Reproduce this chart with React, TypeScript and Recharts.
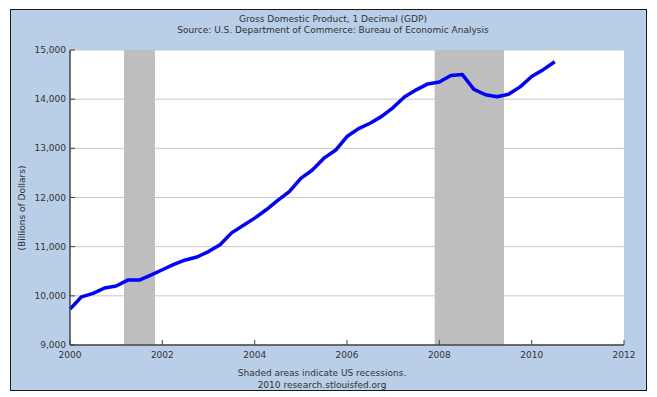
import React from "react";
import {
  ComposedChart,
  Line,
  XAxis,
  YAxis,
  CartesianGrid,
  ReferenceArea,
} from "recharts";

// quarterly observations, decimal year
const quarters = [
  2000.0, 2000.25, 2000.5, 2000.75,
  2001.0, 2001.25, 2001.5, 2001.75,
  2002.0, 2002.25, 2002.5, 2002.75,
  2003.0, 2003.25, 2003.5, 2003.75,
  2004.0, 2004.25, 2004.5, 2004.75,
  2005.0, 2005.25, 2005.5, 2005.75,
  2006.0, 2006.25, 2006.5, 2006.75,
  2007.0, 2007.25, 2007.5, 2007.75,
  2008.0, 2008.25, 2008.5, 2008.75,
  2009.0, 2009.25, 2009.5, 2009.75,
  2010.0, 2010.25, 2010.5,
];

// GDP, billions of dollars
const gdp = [
  9730, 9980, 10050, 10160,
  10200, 10320, 10320, 10420,
  10530, 10640, 10730, 10790,
  10900, 11040, 11280, 11430,
  11580, 11750, 11940, 12120,
  12390, 12560, 12800, 12960,
  13240, 13400, 13510, 13650,
  13830, 14050, 14190, 14310,
  14350, 14480, 14500, 14200,
  14090, 14050, 14100, 14250,
  14460, 14600, 14760,
];

const recessions = [
  { start: 2001.17, end: 2001.84 },
  { start: 2007.9, end: 2009.4 },
];

const xTicks = [2000, 2002, 2004, 2006, 2008, 2010, 2012];
const yTicks = [9000, 10000, 11000, 12000, 13000, 14000, 15000];

const data = quarters.map((t, i) => ({ t, gdp: gdp[i] }));

const FONT = "'DejaVu Sans', Verdana, sans-serif";
const TEXT = "#333";

function XTick(props: any) {
  const { x, y, payload } = props;
  return (
    <g>
      <line x1={x} y1={y} x2={x} y2={y - 5} stroke="#444" strokeWidth={1} />
      <text x={x} y={y + 13} textAnchor="middle" fontSize={9} fontFamily={FONT} fill={TEXT}>
        {payload.value}
      </text>
    </g>
  );
}

function YTick(props: any) {
  const { x, y, payload } = props;
  return (
    <g>
      <line x1={x} y1={y} x2={x + 5} y2={y} stroke="#444" strokeWidth={1} />
      <text x={x - 4} y={y + 3} textAnchor="end" fontSize={9} fontFamily={FONT} fill={TEXT}>
        {payload.value.toLocaleString("en-US")}
      </text>
    </g>
  );
}

const textStyle: React.CSSProperties = {
  position: "absolute",
  textAlign: "center",
  fontFamily: FONT,
  fontSize: 9,
  lineHeight: "11px",
  color: TEXT,
  whiteSpace: "nowrap",
};

export default function App() {
  return (
    <div style={{ position: "absolute", left: 0, top: 0, width: 657, height: 397, background: "#fff" }}>
      <div
        style={{
          position: "absolute",
          left: 10,
          top: 9,
          width: 637,
          height: 382,
          boxSizing: "border-box",
          border: "1px solid #1a1a1a",
          background: "#B8CFE7",
        }}
      />
      <div style={{ ...textStyle, left: 0, width: 666, top: 14 }}>
        Gross Domestic Product, 1 Decimal (GDP)
      </div>
      <div style={{ ...textStyle, left: 0, width: 666, top: 25 }}>
        Source: U.S. Department of Commerce: Bureau of Economic Analysis
      </div>
      <div style={{ ...textStyle, left: 0, width: 644, top: 368 }}>
        Shaded areas indicate US recessions.
      </div>
      <div style={{ ...textStyle, left: 0, width: 644, top: 380 }}>
        2010 research.stlouisfed.org
      </div>
      <div
        style={{
          ...textStyle,
          left: 22,
          top: 208,
          transform: "translate(-50%, -50%) rotate(-90deg)",
        }}
      >
        (Billions of Dollars)
      </div>
      <div style={{ position: "absolute", left: 0, top: 0 }}>
        <ComposedChart
          width={657}
          height={397}
          data={data}
          margin={{ top: 50, right: 33, bottom: 22, left: 10 }}
        >
          <CartesianGrid vertical={false} stroke="#c8c8c8" fill="#ffffff" strokeWidth={1} />
          {recessions.map((r, i) => (
            <ReferenceArea
              key={i}
              x1={r.start}
              x2={r.end}
              y1={9000}
              y2={15000}
              fill="#bebebe"
              fillOpacity={1}
              stroke="none"
            />
          ))}
          <XAxis
            dataKey="t"
            type="number"
            domain={[2000, 2012]}
            ticks={xTicks}
            height={30}
            tickSize={0}
            tickMargin={0}
            tickLine={false}
            tick={<XTick />}
            axisLine={{ stroke: "#444", strokeWidth: 1.5 }}
            interval={0}
          />
          <YAxis
            type="number"
            domain={[9000, 15000]}
            ticks={yTicks}
            width={60}
            tickSize={0}
            tickMargin={0}
            tickLine={false}
            tick={<YTick />}
            axisLine={{ stroke: "#444", strokeWidth: 1.5 }}
            interval={0}
          />
          <Line
            type="linear"
            dataKey="gdp"
            stroke="#0000ff"
            strokeWidth={3.5}
            strokeLinejoin="round"
            dot={false}
            isAnimationActive={false}
          />
        </ComposedChart>
      </div>
    </div>
  );
}
